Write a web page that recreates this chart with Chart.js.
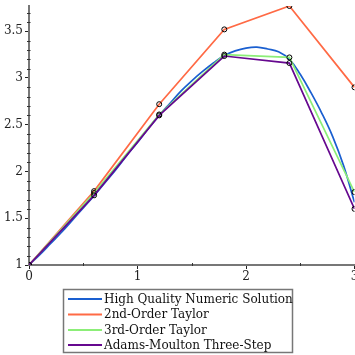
<!DOCTYPE html>
<html>
<head>
<meta charset="utf-8">
<script src="https://cdn.jsdelivr.net/npm/chart.js@4"></script>
<style>
html,body{margin:0;padding:0;background:#fff;}
#wrap{position:relative;width:355px;height:355px;overflow:hidden;}
</style>
</head>
<body>
<div id="wrap"><canvas id="c" width="358" height="355"></canvas></div>
<script>
// ---- data ----
const stepX = [0, 0.6, 1.2, 1.8, 2.4, 3.0];
const taylor2 = [1, 1.79, 2.72, 3.52, 3.77, 2.90];
const taylor3 = [1, 1.77, 2.61, 3.25, 3.22, 1.78];
const adams = [1, 1.745, 2.60, 3.235, 3.16, 1.60];
const fineX = [0,0.1,0.2,0.3,0.4,0.5,0.6,0.7,0.8,0.9,1.0,1.1,1.2,1.3,1.4,1.5,1.6,1.7,1.8,1.9,2.0,2.1,2.2,2.3,2.4,2.5,2.6,2.7,2.8,2.9,3.0];
const exact = [1.00,1.11,1.23,1.35,1.48,1.61,1.74,1.88,2.02,2.17,2.31,2.46,2.60,2.73,2.86,2.97,3.07,3.16,3.24,3.29,3.32,3.33,3.31,3.28,3.20,3.04,2.84,2.62,2.37,2.06,1.67];
const seriesNames = ['High Quality Numeric Solution','2nd-Order Taylor','3rd-Order Taylor','Adams-Moulton Three-Step'];
const seriesColors = ['#1a5fd0','#ff6a45','#8cee78','#66088f'];
const xTickVals = [0,1,2,3];
const xTickLabels = ['0','1','2','3'];
const yTickVals = [1,1.5,2,2.5,3,3.5];
const yTickLabels = ['1','1.5','2','2.5','3','3.5'];
const xMinor = [0.5,1.5,2.5];
const yMinor = [1.1,1.2,1.3,1.4,1.6,1.7,1.8,1.9,2.1,2.2,2.3,2.4,2.6,2.7,2.8,2.9,3.1,3.2,3.3,3.4,3.6,3.7];

const FONT = 'DejaVu Serif';
const AXIS = '#777777';

function pts(xs, ys){ return xs.map((x,i)=>({x:x,y:ys[i]})); }

const minorTicks = {
  id:'minorTicks',
  afterDraw(chart){
    const ctx = chart.ctx, xs = chart.scales.x, ys = chart.scales.y;
    ctx.save();
    ctx.strokeStyle = '#333';
    ctx.lineWidth = 1;
    const ax = ys.left + ys.width; // axis x
    const ay = xs.top;
    ctx.beginPath();
    yMinor.forEach(v=>{ const p = Math.round(ys.getPixelForValue(v))+0.5; ctx.moveTo(ax-2, p); ctx.lineTo(ax+1.5, p); });
    xMinor.forEach(v=>{ const p = Math.round(xs.getPixelForValue(v))+0.5; ctx.moveTo(p, ay-2); ctx.lineTo(p, ay+1); });
    ctx.stroke();
    // legend
    const bx = 63.5, by = 289.5, bw = 229, bh = 63;
    ctx.strokeStyle = AXIS; ctx.lineWidth = 1.5;
    ctx.strokeRect(bx, by, bw, bh);
    ctx.font = '12px "' + FONT + '"';
    ctx.textBaseline = 'middle';
    ctx.fillStyle = '#111';
    const rows = [299, 314.5, 330, 345];
    seriesNames.forEach((n,i)=>{
      ctx.strokeStyle = seriesColors[i]; ctx.lineWidth = 2;
      ctx.beginPath(); ctx.moveTo(68, rows[i]); ctx.lineTo(102, rows[i]); ctx.stroke();
      ctx.fillText(n, 104, rows[i]+0.5);
    });
    ctx.restore();
  }
};

const common = {showLine:true, fill:false, borderWidth:1.7, tension:0};
const markerStyle = {pointRadius:2.5, pointBorderColor:'#000', pointBackgroundColor:'rgba(255,255,255,0)', pointBorderWidth:1, pointHoverRadius:2.5};

new Chart(document.getElementById('c'), {
  type:'scatter',
  data:{
    datasets:[
      Object.assign({label:seriesNames[0], data:pts(fineX, exact), borderColor:seriesColors[0], pointRadius:0, order:4}, common, {tension:0.4}),
      Object.assign({label:seriesNames[1], data:pts(stepX, taylor2), borderColor:seriesColors[1], order:3}, common, markerStyle),
      Object.assign({label:seriesNames[2], data:pts(stepX, taylor3), borderColor:seriesColors[2], order:2}, common, markerStyle),
      Object.assign({label:seriesNames[3], data:pts(stepX, adams), borderColor:seriesColors[3], order:1}, common, markerStyle)
    ]
  },
  options:{
    responsive:false,
    animation:false,
    layout:{padding:{left:0, right:0, top:6, bottom:70}},
    plugins:{legend:{display:false}, tooltip:{enabled:false}},
    scales:{
      x:{
        type:'linear', min:0, max:3,
        afterBuildTicks(s){ s.ticks = xTickVals.map(v=>({value:v})); },
        afterFit(s){ s.height = 20; s.paddingLeft = 0; s.paddingRight = 0; },
        ticks:{ font:{family:FONT, size:12}, color:'#222', padding:1, maxRotation:0, autoSkip:false,
          callback(v){ const i = xTickVals.indexOf(v); return i>=0 ? xTickLabels[i] : ''; } },
        grid:{ drawOnChartArea:false, tickLength:4, tickColor:'#222', tickWidth:1 },
        border:{ color:AXIS, width:2 }
      },
      y:{
        type:'linear', min:1, max:3.77,
        afterBuildTicks(s){ s.ticks = yTickVals.map(v=>({value:v})); },
        afterFit(s){ s.width = 29; s.paddingTop = 0; s.paddingBottom = 0; },
        ticks:{ font:{family:FONT, size:12}, color:'#222', padding:2, autoSkip:false,
          callback(v){ const i = yTickVals.indexOf(v); return i>=0 ? yTickLabels[i] : ''; } },
        grid:{ drawOnChartArea:false, tickLength:4, tickColor:'#222', tickWidth:1 },
        border:{ color:AXIS, width:2 }
      }
    }
  },
  plugins:[minorTicks]
});
</script>
</body>
</html>
